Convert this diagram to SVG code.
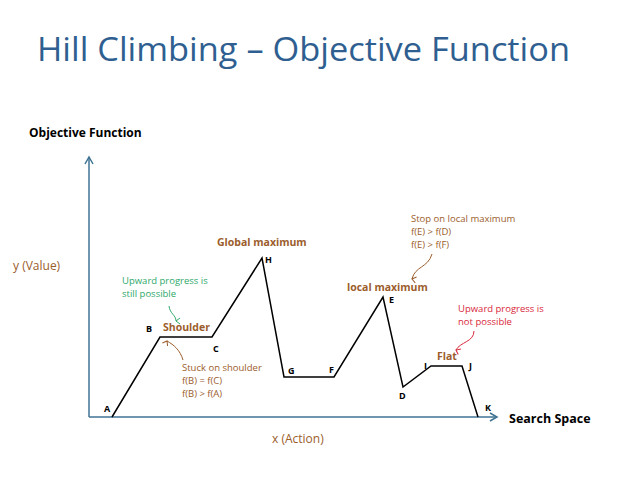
<svg xmlns="http://www.w3.org/2000/svg" width="638" height="479" viewBox="0 0 638 479">
<style>
text{font-family:"Open Sans","Liberation Sans",sans-serif}
.pt{font-size:9px;font-weight:bold;fill:#000}
.br{fill:#9b5d2c;font-size:9.5px}
.brb{fill:#9b5d2c;font-size:10.5px;font-weight:bold}
.ax{stroke:#3f7393;stroke-width:1.5;fill:none}
.cur{stroke:#000;stroke-width:1.5;fill:none}
.ca{fill:none;stroke-width:1}
</style>
<defs>
<marker id="ah" markerWidth="10" markerHeight="10" refX="8" refY="5" orient="auto" markerUnits="userSpaceOnUse"><path d="M1,1 L8,5 L1,9" fill="none" stroke="#3f7393" stroke-width="1.5"/></marker>
<marker id="sb" markerWidth="8" markerHeight="8" refX="4" refY="6" orient="auto-start-reverse" markerUnits="userSpaceOnUse"><path d="M1,2 L4,6 L7,2" fill="none" stroke="#9b5d2c" stroke-width="1"/></marker>
<marker id="sg" markerWidth="8" markerHeight="8" refX="4" refY="6" orient="auto" markerUnits="userSpaceOnUse"><path d="M1,2 L4,6 L7,2" fill="none" stroke="#2ea86a" stroke-width="1"/></marker>
<marker id="sr" markerWidth="8" markerHeight="8" refX="4" refY="6" orient="auto" markerUnits="userSpaceOnUse"><path d="M1,2 L4,6 L7,2" fill="none" stroke="#d8283a" stroke-width="1"/></marker>
</defs>
<rect width="638" height="479" fill="#fff"/>
<text x="37" y="61" font-size="33" fill="#2f5f91" textLength="533" lengthAdjust="spacingAndGlyphs">Hill Climbing – Objective Function</text>
<g id="axes">
<line class="ax" x1="89" y1="417" x2="89" y2="157" marker-end="url(#ah)"/>
<line class="ax" x1="89" y1="417" x2="497" y2="417" marker-end="url(#ah)"/>
<text x="29" y="137" font-size="12" font-weight="bold">Objective Function</text>
<text x="13" y="270" font-size="12" fill="#9b5d2c">y (Value)</text>
<text x="272" y="443" font-size="12" fill="#9b5d2c">x (Action)</text>
<text x="509" y="423" font-size="12.5" font-weight="bold">Search Space</text>
</g>
<g id="connectors">
<polyline class="cur" points="112,417 160,337 212,337 262,258 284,377 334,377 383,297 403,387 431,366 462,366 478,417"/>
<path class="ca" stroke="#2ea86a" d="M169,306 C170,314 176,315 176,321" marker-end="url(#sg)"/>
<path class="ca" stroke="#9b5d2c" d="M183,360 C180,350 174,345 167,341" marker-end="url(#sb)"/>
<path class="ca" stroke="#9b5d2c" d="M432,254 C428,268 415,266 412,279" marker-end="url(#sb)"/>
<path class="ca" stroke="#d8283a" d="M474,331 C474,342 460,342 456,350" marker-end="url(#sr)"/>
</g>
<g id="labels">
<text class="pt" x="104" y="412">A</text>
<text class="pt" x="146" y="332">B</text>
<text class="pt" x="213" y="352">C</text>
<text class="pt" x="265" y="263">H</text>
<text class="pt" x="288" y="374">G</text>
<text class="pt" x="329" y="373">F</text>
<text class="pt" x="389" y="303">E</text>
<text class="pt" x="399" y="399">D</text>
<text class="pt" x="424" y="369">I</text>
<text class="pt" x="469" y="369">J</text>
<text class="pt" x="485" y="411">K</text>
<text class="brb" x="163" y="331">Shoulder</text>
<text class="brb" x="217" y="246">Global maximum</text>
<text class="brb" x="347" y="291">local maximum</text>
<text class="brb" x="437" y="360">Flat</text>
<text font-size="9.5" fill="#2ea86a"><tspan x="122" y="284">Upward progress is</tspan><tspan x="122" y="297">still possible</tspan></text>
<text class="br"><tspan x="182" y="371">Stuck on shoulder</tspan><tspan x="182" y="384">f(B) = f(C)</tspan><tspan x="182" y="397">f(B) &gt; f(A)</tspan></text>
<text class="br"><tspan x="411" y="222">Stop on local maximum</tspan><tspan x="411" y="235">f(E) &gt; f(D)</tspan><tspan x="411" y="248">f(E) &gt; f(F)</tspan></text>
<text font-size="9.5" fill="#d8283a"><tspan x="458" y="312">Upward progress is</tspan><tspan x="458" y="325">not possible</tspan></text>
</g>
</svg>
